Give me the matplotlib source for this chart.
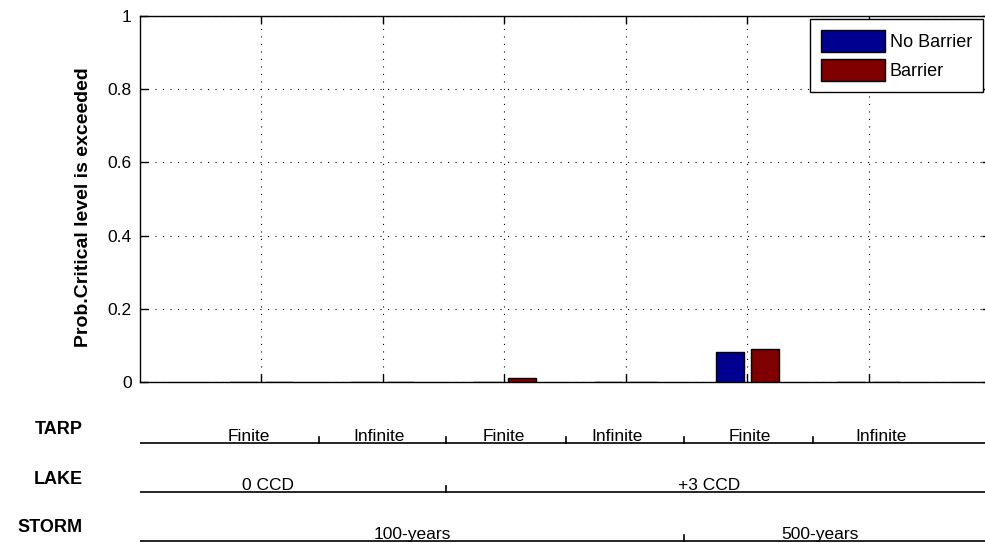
import matplotlib
matplotlib.use("Agg")
import matplotlib.pyplot as plt
import numpy as np

# ---- data ----
tarp_labels = ["Finite", "Infinite", "Finite", "Infinite", "Finite", "Infinite"]
lake_labels = ["0 CCD", "+3 CCD"]
storm_labels = ["100-years", "500-years"]
series_names = ["No Barrier", "Barrier"]
no_barrier = [0.0, 0.0, 0.0, 0.0, 0.083, 0.0]
barrier = [0.0, 0.0, 0.012, 0.0, 0.091, 0.0]
yticks = [0, 0.2, 0.4, 0.6, 0.8, 1]
ytick_labels = ["0", "0.2", "0.4", "0.6", "0.8", "1"]

# layout positions (x in group units)
tarp_label_x = [0.9, 1.97, 3.0, 3.93, 5.02, 6.1]
tarp_sep_x = [1.47, 2.52, 3.51, 4.48, 5.54]
lake_label_x = [1.05, 4.69]
lake_sep_x = [2.52]
storm_label_x = [2.24, 5.6]
storm_sep_x = [4.48]

plt.rcParams['font.family'] = ['Liberation Sans', 'DejaVu Sans']

W, H = 985, 543
fig = plt.figure(figsize=(W / 100, H / 100), dpi=100)
fig.patch.set_facecolor('white')

ax_l, ax_r, ax_t, ax_b = 140, 990, 16, 382
ax = fig.add_axes([ax_l / W, 1 - ax_b / H, (ax_r - ax_l) / W, (ax_b - ax_t) / H])

x = np.arange(1, len(tarp_labels) + 1)
bw = 0.23
off = 0.145
nb = np.array(no_barrier)
br = np.array(barrier)
ax.bar(x - off, nb, width=bw, color='#000090', edgecolor='black', linewidth=1.0,
       label=series_names[0], zorder=3)
ax.bar(x + off, br, width=bw, color='#800000', edgecolor='black', linewidth=1.0,
       label=series_names[1], zorder=3)

ax.set_xlim(0, 7)
ax.set_ylim(0, 1)
ax.set_xticks(x)
ax.set_xticklabels([])
ax.set_yticks(yticks)
ax.set_yticklabels(ytick_labels, fontsize=12.5)
ax.tick_params(direction='in', length=6, width=1, top=True, right=True, pad=6, colors='black')
ax.grid(True, linestyle=(0, (1, 5.75)), color='black', linewidth=0.8, zorder=0)
for s in ax.spines.values():
    s.set_linewidth(1.0)
    s.set_color('black')

leg = ax.legend(loc='upper right', bbox_to_anchor=(983 / W, 1 - 19 / H),
                bbox_transform=fig.transFigure, fontsize=13, fancybox=False,
                edgecolor='black', framealpha=1, handlelength=3.55, handleheight=1.55,
                handletextpad=0.25, borderpad=0.6, labelspacing=0.35, borderaxespad=0)
leg.get_frame().set_linewidth(1.0)

fig.text(84 / W, 1 - 207 / H, "Prob.Critical level is exceeded", rotation=90,
         ha='center', va='center', fontsize=14, fontweight='bold')

# ---- lower category annotation axes ----
ax2 = fig.add_axes([ax_l / W, 0, (ax_r - ax_l) / W, 148 / H])
ax2.set_xlim(0, 7)
ax2.set_ylim(543, 395)
ax2.axis('off')

rows = [
    ("TARP", 442.5, tarp_labels, tarp_label_x, tarp_sep_x, 429),
    ("LAKE", 491.5, lake_labels, lake_label_x, lake_sep_x, 479),
    ("STORM", 540.5, storm_labels, storm_label_x, storm_sep_x, 528),
]
for name, yl, labs, lx, sx, ty in rows:
    ax2.plot([0, 7], [yl, yl], color='black', linewidth=1.2, clip_on=False,
             solid_capstyle='butt')
    for xs in sx:
        ax2.plot([xs, xs], [yl, yl - 6], color='black', linewidth=1.2, clip_on=False)
    for lab, xx in zip(labs, lx):
        ax2.text(xx, yl - 1.5, lab, ha='center', va='baseline', fontsize=12.5)
    fig.text(83 / W, 1 - ty / H, name, ha='right', va='center', fontsize=13,
             fontweight='bold')

fig.savefig("out.png", dpi=100, facecolor='white')
